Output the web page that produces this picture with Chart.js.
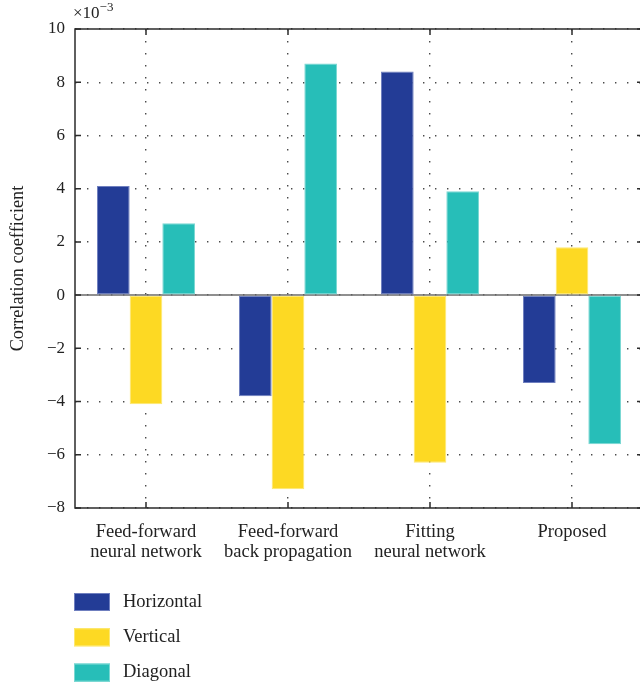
<!DOCTYPE html>
<html>
<head>
<meta charset="utf-8">
<script src="https://cdn.jsdelivr.net/npm/chart.js@4/dist/chart.umd.min.js"></script>
<style>
  html, body { margin: 0; padding: 0; background: #fff; overflow: hidden; }
  #wrap { width: 640px; height: 686px; overflow: hidden; }
  canvas { display: block; }
</style>
</head>
<body>
<div id="wrap"><canvas id="c" width="650" height="686"></canvas></div>
<script>
// Methods compared
const categories = [
  ['Feed-forward', 'neural network'],
  ['Feed-forward', 'back propagation'],
  ['Fitting', 'neural network'],
  ['Proposed']
];
// Correlation coefficients (×10^-3) per direction
const horizontal = [4.1, -3.8, 8.4, -3.3];
const vertical   = [-4.1, -7.3, -6.3, 1.8];
const diagonal   = [2.7, 8.7, 3.9, -5.6];
const seriesNames = ['Horizontal', 'Vertical', 'Diagonal'];
const yTicks = [-8, -6, -4, -2, 0, 2, 4, 6, 8, 10];

const FONT = "'Liberation Serif', 'DejaVu Serif', serif";
const fills = ['#233c96', '#fdd923', '#27beb8'];
const edges = ['#6f7fbf', '#fde870', '#7ad8d3'];

// Axis box, zero baseline, inward ticks, exponent and legend
const decorations = {
  id: 'decorations',
  beforeDatasetsDraw(chart) {
    const { ctx, chartArea: a, scales: { y } } = chart;
    ctx.save();
    ctx.strokeStyle = '#6a6a6a';
    ctx.lineWidth = 1.5;
    const y0 = y.getPixelForValue(0);
    ctx.beginPath();
    ctx.moveTo(a.left, y0);
    ctx.lineTo(a.right, y0);
    ctx.stroke();
    ctx.restore();
  },
  afterDatasetsDraw(chart) {
    const { ctx, chartArea: a, scales: { x, y } } = chart;
    ctx.save();
    ctx.strokeStyle = '#2b2b2b';
    ctx.lineWidth = 1.5;
    ctx.beginPath();
    ctx.rect(a.left, a.top, a.right - a.left, a.bottom - a.top);
    ctx.stroke();
    const t = 6;
    ctx.beginPath();
    yTicks.forEach(v => {
      const py = y.getPixelForValue(v);
      ctx.moveTo(a.left, py); ctx.lineTo(a.left + t, py);
      ctx.moveTo(a.right, py); ctx.lineTo(a.right - t, py);
    });
    categories.forEach((c, i) => {
      const px = x.getPixelForValue(i);
      ctx.moveTo(px, a.bottom); ctx.lineTo(px, a.bottom - t);
      ctx.moveTo(px, a.top); ctx.lineTo(px, a.top + t);
    });
    ctx.stroke();

    // exponent of the y values
    ctx.fillStyle = '#222';
    ctx.textBaseline = 'alphabetic';
    ctx.textAlign = 'left';
    ctx.font = '17px ' + FONT;
    ctx.fillText('\u00d710', 73, 18);
    const w = ctx.measureText('\u00d710').width;
    ctx.font = '13px ' + FONT;
    ctx.fillText('\u22123', 73 + w, 11);

    // legend
    ctx.font = '18.5px ' + FONT;
    ctx.textBaseline = 'middle';
    chart.data.datasets.forEach((ds, i) => {
      const cy = 602 + i * 35.3;
      ctx.fillStyle = ds.backgroundColor;
      ctx.fillRect(74, cy - 9, 36, 18);
      ctx.strokeStyle = ds.borderColor;
      ctx.lineWidth = 1;
      ctx.strokeRect(74.5, cy - 8.5, 35, 17);
      ctx.fillStyle = '#222';
      ctx.fillText(ds.label, 123, cy);
    });
    ctx.restore();
  }
};

new Chart(document.getElementById('c'), {
  type: 'bar',
  data: {
    labels: categories,
    datasets: [horizontal, vertical, diagonal].map((d, i) => ({
      label: seriesNames[i],
      data: d,
      backgroundColor: fills[i],
      borderColor: edges[i],
      borderWidth: 1,
      borderSkipped: false,
      barPercentage: 1,
      categoryPercentage: 0.69
    }))
  },
  options: {
    responsive: false,
    animation: false,
    devicePixelRatio: 1,
    layout: { padding: { top: 29, right: 7, left: 0, bottom: 0 } },
    plugins: { legend: { display: false }, tooltip: { enabled: false } },
    scales: {
      x: {
        grid: { offset: false, drawTicks: false, color: '#4a4a4a', lineWidth: 1.4 },
        border: { display: false, dash: [1.4, 10.6] },
        ticks: { color: '#222', font: { family: FONT, size: 18.5, lineHeight: 1.12 }, padding: 13.5, maxRotation: 0, autoSkip: false },
        afterFit(s) { s.height = 178; }
      },
      y: {
        min: -8, max: 10,
        afterBuildTicks(s) { s.ticks = yTicks.map(v => ({ value: v })); },
        grid: { drawTicks: false, color: '#4a4a4a', lineWidth: 1.4 },
        border: { display: false, dash: [1.4, 10.6] },
        ticks: {
          color: '#222', font: { family: FONT, size: 17 }, padding: 10,
          callback: v => String(v).replace('-', '\u2212')
        },
        title: { display: true, text: 'Correlation coefficient', color: '#222', font: { family: FONT, size: 18.3 }, padding: { top: 7, bottom: 0 } },
        afterFit(s) { s.width = 75; }
      }
    }
  },
  plugins: [decorations]
});
</script>
</body>
</html>
